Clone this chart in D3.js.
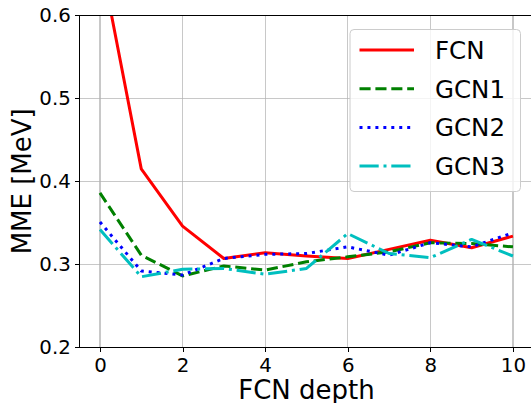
<!DOCTYPE html>
<html lang="en">
    <head>
        <meta charset="utf-8">
        <title>MME vs FCN depth</title>
        <script type="text/javascript" src="https://cdn.jsdelivr.net/npm/d3@7/dist/d3.min.js"></script>
        <style>
        body { margin: 0; background: #fff; }
        svg { display: block; font-family: "DejaVu Sans", sans-serif; }
        .axis line { stroke: black; shape-rendering: crispEdges; }
        .axis text { font-size: 19.8px; fill: black; font-family: "DejaVu Sans", sans-serif; }
        .grid line { stroke: #b0b0b0; stroke-opacity: 0.7; shape-rendering: crispEdges; }
        .spine { stroke: black; stroke-width: 1.1; shape-rendering: crispEdges; }
        </style>
    </head>
    <body>
        <script type="text/javascript">
        // FCN depth on the x axis
        var depths = [0, 1, 2, 3, 4, 5, 6, 7, 8, 9, 10];
        var fcn  = [0.672, 0.415, 0.346, 0.307, 0.314, 0.310, 0.307, 0.318, 0.329, 0.320, 0.334];
        var gcn1 = [0.386, 0.311, 0.286, 0.298, 0.293, 0.303, 0.309, 0.315, 0.326, 0.325, 0.321];
        var gcn2 = [0.351, 0.292, 0.287, 0.307, 0.312, 0.313, 0.321, 0.311, 0.326, 0.321, 0.338];
        var gcn3 = [0.342, 0.285, 0.294, 0.295, 0.288, 0.295, 0.337, 0.313, 0.308, 0.330, 0.310];
        var seriesNames = ["FCN", "GCN1", "GCN2", "GCN3"];
        var xTicks = [0, 2, 4, 6, 8, 10];
        var yTicks = [0.2, 0.3, 0.4, 0.5, 0.6];

        var w = 531, h = 403;
        var padLeft = 79.3, padRight = 533.6, padTop = 15.3, padBottom = 347.3;

        var series = [
            { name: seriesNames[0], values: fcn,  color: "#ff0000", dash: null },
            { name: seriesNames[1], values: gcn1, color: "#008000", dash: "11.1,4.8" },
            { name: seriesNames[2], values: gcn2, color: "#0000ff", dash: "3,4.95" },
            { name: seriesNames[3], values: gcn3, color: "#00bfbf", dash: "19.2,4.8,3,4.8" }
        ];

        var xScale = d3.scaleLinear().domain([-0.5, 10.5]).range([padLeft, padRight]);
        var yScale = d3.scaleLinear().domain([0.2, 0.6]).range([padBottom, padTop]);

        var svg = d3.select("body").append("svg")
            .attr("width", w)
            .attr("height", h);

        svg.append("defs").append("clipPath").attr("id", "plot")
            .append("rect")
            .attr("x", padLeft).attr("y", padTop)
            .attr("width", padRight - padLeft).attr("height", padBottom - padTop);

        // grid
        var grid = svg.append("g").attr("class", "grid");
        grid.selectAll(".gx").data(xTicks).enter().append("line")
            .attr("x1", function(d) { return xScale(d); })
            .attr("x2", function(d) { return xScale(d); })
            .attr("y1", padTop).attr("y2", padBottom)
            .attr("stroke-width", 1.1);
        grid.selectAll(".gy").data(yTicks).enter().append("line")
            .attr("y1", function(d) { return yScale(d); })
            .attr("y2", function(d) { return yScale(d); })
            .attr("x1", padLeft).attr("x2", padRight)
            .attr("stroke-width", 1.1);

        // lines
        var line = d3.line()
            .x(function(d, i) { return xScale(depths[i]); })
            .y(function(d) { return yScale(d); });

        var plot = svg.append("g").attr("clip-path", "url(#plot)");
        plot.selectAll("path").data(series).enter().append("path")
            .attr("d", function(d) { return line(d.values); })
            .attr("fill", "none")
            .attr("stroke", function(d) { return d.color; })
            .attr("stroke-width", 3)
            .attr("stroke-linejoin", "round")
            .attr("stroke-dasharray", function(d) { return d.dash; });

        // axes
        var xAxis = d3.axisBottom(xScale).tickValues(xTicks).tickSize(4.5).tickPadding(5);
        var yAxis = d3.axisLeft(yScale).tickValues(yTicks).tickFormat(d3.format(".1f")).tickSize(4.5).tickPadding(4);

        svg.append("g")
            .attr("class", "axis")
            .attr("transform", "translate(0," + padBottom + ")")
            .call(xAxis)
            .call(function(g) { g.selectAll("text").attr("dy", "0.75em"); });
        svg.append("g")
            .attr("class", "axis")
            .attr("transform", "translate(" + padLeft + ",0)")
            .call(yAxis);

        // spines: left, top, bottom (right one lies past the window edge)
        svg.selectAll(".axis .domain").remove();
        svg.append("line").attr("class", "spine")
            .attr("x1", padLeft).attr("x2", padLeft).attr("y1", padTop).attr("y2", padBottom);
        svg.append("line").attr("class", "spine")
            .attr("x1", padLeft).attr("x2", padRight).attr("y1", padTop).attr("y2", padTop);
        svg.append("line").attr("class", "spine")
            .attr("x1", padLeft).attr("x2", padRight).attr("y1", padBottom).attr("y2", padBottom);

        // axis labels
        svg.append("text")
            .attr("x", (padLeft + padRight) / 2)
            .attr("y", 398.5)
            .attr("text-anchor", "middle")
            .attr("font-size", "26px")
            .text("FCN depth");
        svg.append("text")
            .attr("transform", "translate(31," + ((padTop + padBottom) / 2) + ") rotate(-90)")
            .attr("text-anchor", "middle")
            .attr("font-size", "26px")
            .text("MME [MeV]");

        // legend
        var legend = svg.append("g");
        legend.append("rect")
            .attr("x", 350).attr("y", 29.5)
            .attr("width", 170.5).attr("height", 162)
            .attr("rx", 4).attr("ry", 4)
            .attr("fill", "white").attr("fill-opacity", 0.8)
            .attr("stroke", "#cccccc").attr("stroke-width", 1);

        var items = legend.selectAll(".item").data(series).enter().append("g")
            .attr("transform", function(d, i) { return "translate(0," + (50 + i * 38.7) + ")"; });
        items.append("line")
            .attr("x1", 359.5).attr("x2", 414)
            .attr("y1", 0).attr("y2", 0)
            .attr("stroke", function(d) { return d.color; })
            .attr("stroke-width", 3)
            .attr("stroke-dasharray", function(d) { return d.dash; });
        items.append("text")
            .attr("x", 435)
            .attr("y", 0)
            .attr("dy", "0.36em")
            .attr("font-size", "24.5px")
            .text(function(d) { return d.name; });
        </script>
    </body>
</html>
